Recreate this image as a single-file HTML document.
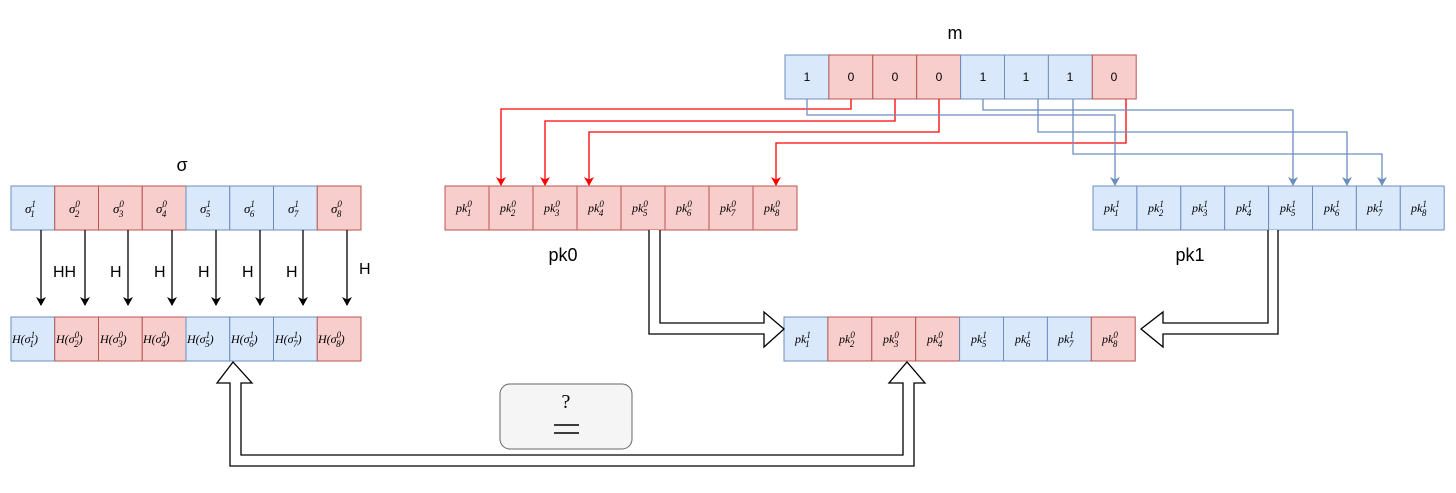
<!DOCTYPE html>
<html><head><meta charset="utf-8"><style>
html,body{margin:0;padding:0;background:#fff;}
svg{display:block}
.l{font-family:"Liberation Sans",sans-serif;font-size:18px;fill:#000}
.m{font-family:"Liberation Serif",serif;font-style:italic;font-size:13px;fill:#000}
.s{font-size:9px}
.n{font-family:"Liberation Sans",sans-serif;font-size:12px;fill:#000}
.b{fill:#dae8fc;stroke:#6c8ebf;stroke-width:1}
.r{fill:#f8cecc;stroke:#b85450;stroke-width:1}
</style></head><body>
<svg width="1456" height="493" viewBox="0 0 1456 493" xmlns="http://www.w3.org/2000/svg">
<defs>
<marker id="ak" markerWidth="10" markerHeight="10" refX="8" refY="5" orient="auto" markerUnits="userSpaceOnUse"><path d="M0,0 L9,5 L0,10 L2.5,5 Z" fill="#000"/></marker>
<marker id="ar" markerWidth="10" markerHeight="10" refX="8" refY="5" orient="auto" markerUnits="userSpaceOnUse"><path d="M0,0 L9,5 L0,10 L2.5,5 Z" fill="#ff0000"/></marker>
<marker id="ab" markerWidth="10" markerHeight="10" refX="8" refY="5" orient="auto" markerUnits="userSpaceOnUse"><path d="M0,0 L9,5 L0,10 L2.5,5 Z" fill="#6c8ebf"/></marker>
</defs>

<!-- labels -->
<text class="l" x="182" y="171" text-anchor="middle">σ</text>
<text class="l" x="955" y="39" text-anchor="middle">m</text>
<text class="l" x="563" y="261" text-anchor="middle">pk0</text>
<text class="l" x="1190" y="261" text-anchor="middle">pk1</text>

<!-- sigma row -->
<rect class="b" x="11" y="186" width="43.75" height="44"/>
<rect class="r" x="54.75" y="186" width="43.75" height="44"/>
<rect class="r" x="98.5" y="186" width="43.75" height="44"/>
<rect class="r" x="142.25" y="186" width="43.75" height="44"/>
<rect class="b" x="186" y="186" width="43.75" height="44"/>
<rect class="b" x="229.75" y="186" width="43.75" height="44"/>
<rect class="b" x="273.5" y="186" width="43.75" height="44"/>
<rect class="r" x="317.25" y="186" width="43.75" height="44"/>
<g class="m">
<text x="25" y="213">σ<tspan class="s" dy="-6">1</tspan><tspan class="s" dx="-5" dy="10">1</tspan></text>
<text x="69" y="213">σ<tspan class="s" dy="-6">0</tspan><tspan class="s" dx="-5" dy="10">2</tspan></text>
<text x="113" y="213">σ<tspan class="s" dy="-6">0</tspan><tspan class="s" dx="-5" dy="10">3</tspan></text>
<text x="156" y="213">σ<tspan class="s" dy="-6">0</tspan><tspan class="s" dx="-5" dy="10">4</tspan></text>
<text x="200" y="213">σ<tspan class="s" dy="-6">1</tspan><tspan class="s" dx="-5" dy="10">5</tspan></text>
<text x="244" y="213">σ<tspan class="s" dy="-6">1</tspan><tspan class="s" dx="-5" dy="10">6</tspan></text>
<text x="288" y="213">σ<tspan class="s" dy="-6">1</tspan><tspan class="s" dx="-5" dy="10">7</tspan></text>
<text x="331" y="213">σ<tspan class="s" dy="-6">0</tspan><tspan class="s" dx="-5" dy="10">8</tspan></text>
</g>

<!-- H arrows -->
<g stroke="#000" stroke-width="1.3" marker-end="url(#ak)">
<line x1="41" y1="230" x2="41" y2="305"/>
<line x1="85" y1="230" x2="85" y2="305"/>
<line x1="128" y1="230" x2="128" y2="305"/>
<line x1="172" y1="230" x2="172" y2="305"/>
<line x1="216" y1="230" x2="216" y2="305"/>
<line x1="260" y1="230" x2="260" y2="305"/>
<line x1="303" y1="230" x2="303" y2="305"/>
<line x1="347" y1="230" x2="347" y2="305"/>
</g>
<g class="l" font-size="16">
<text x="53" y="277" style="font-size:16px">HH</text>
<text x="110" y="277" style="font-size:16px">H</text>
<text x="154" y="277" style="font-size:16px">H</text>
<text x="198" y="277" style="font-size:16px">H</text>
<text x="242" y="277" style="font-size:16px">H</text>
<text x="286" y="277" style="font-size:16px">H</text>
<text x="359" y="274" style="font-size:16px">H</text>
</g>

<!-- H row -->
<rect class="b" x="11" y="317" width="43.75" height="44"/>
<rect class="r" x="54.75" y="317" width="43.75" height="44"/>
<rect class="r" x="98.5" y="317" width="43.75" height="44"/>
<rect class="r" x="142.25" y="317" width="43.75" height="44"/>
<rect class="b" x="186" y="317" width="43.75" height="44"/>
<rect class="b" x="229.75" y="317" width="43.75" height="44"/>
<rect class="b" x="273.5" y="317" width="43.75" height="44"/>
<rect class="r" x="317.25" y="317" width="43.75" height="44"/>
<g class="m" style="font-size:12px">
<text x="12" y="343">H(σ<tspan class="s" dy="-5">1</tspan><tspan class="s" dx="-5" dy="9">1</tspan><tspan dy="-4">)</tspan></text>
<text x="56" y="343">H(σ<tspan class="s" dy="-5">0</tspan><tspan class="s" dx="-5" dy="9">2</tspan><tspan dy="-4">)</tspan></text>
<text x="100" y="343">H(σ<tspan class="s" dy="-5">0</tspan><tspan class="s" dx="-5" dy="9">3</tspan><tspan dy="-4">)</tspan></text>
<text x="143" y="343">H(σ<tspan class="s" dy="-5">0</tspan><tspan class="s" dx="-5" dy="9">4</tspan><tspan dy="-4">)</tspan></text>
<text x="187" y="343">H(σ<tspan class="s" dy="-5">1</tspan><tspan class="s" dx="-5" dy="9">5</tspan><tspan dy="-4">)</tspan></text>
<text x="231" y="343">H(σ<tspan class="s" dy="-5">1</tspan><tspan class="s" dx="-5" dy="9">6</tspan><tspan dy="-4">)</tspan></text>
<text x="275" y="343">H(σ<tspan class="s" dy="-5">1</tspan><tspan class="s" dx="-5" dy="9">7</tspan><tspan dy="-4">)</tspan></text>
<text x="318" y="343">H(σ<tspan class="s" dy="-5">0</tspan><tspan class="s" dx="-5" dy="9">8</tspan><tspan dy="-4">)</tspan></text>
</g>

<!-- m row -->
<rect class="b" x="785" y="55" width="43.9" height="44"/>
<rect class="r" x="828.9" y="55" width="43.9" height="44"/>
<rect class="r" x="872.8" y="55" width="43.9" height="44"/>
<rect class="r" x="916.7" y="55" width="43.9" height="44"/>
<rect class="b" x="960.6" y="55" width="43.9" height="44"/>
<rect class="b" x="1004.5" y="55" width="43.9" height="44"/>
<rect class="b" x="1048.4" y="55" width="43.9" height="44"/>
<rect class="r" x="1092.3" y="55" width="43.9" height="44"/>
<g class="n" text-anchor="middle">
<text x="807" y="81">1</text><text x="851" y="81">0</text><text x="895" y="81">0</text><text x="939" y="81">0</text>
<text x="983" y="81">1</text><text x="1026" y="81">1</text><text x="1070" y="81">1</text><text x="1114" y="81">0</text>
</g>

<!-- red connectors -->
<g fill="none" stroke="#ff0000" stroke-width="1.3" marker-end="url(#ar)">
<polyline points="851,99 851,109 501,109 501,185"/>
<polyline points="895,99 895,121 545,121 545,185"/>
<polyline points="939,99 939,132 589,132 589,185"/>
<polyline points="1126,99 1126,143 776,143 776,185"/>
</g>
<!-- blue connectors -->
<g fill="none" stroke="#6c8ebf" stroke-width="1.3" marker-end="url(#ab)">
<polyline points="807,99 807,115 1115,115 1115,185"/>
<polyline points="983,99 983,110 1293,110 1293,185"/>
<polyline points="1038,99 1038,132 1347,132 1347,185"/>
<polyline points="1073,99 1073,154 1382,154 1382,185"/>
</g>

<!-- pk0 -->
<g class="r">
<rect x="445" y="186" width="44" height="44"/><rect x="489" y="186" width="44" height="44"/>
<rect x="533" y="186" width="44" height="44"/><rect x="577" y="186" width="44" height="44"/>
<rect x="621" y="186" width="44" height="44"/><rect x="665" y="186" width="44" height="44"/>
<rect x="709" y="186" width="44" height="44"/><rect x="753" y="186" width="44" height="44"/>
</g>
<g class="m" style="font-size:12px">
<text x="456" y="212">pk<tspan class="s" dy="-5">0</tspan><tspan class="s" dx="-5" dy="9">1</tspan></text>
<text x="500" y="212">pk<tspan class="s" dy="-5">0</tspan><tspan class="s" dx="-5" dy="9">2</tspan></text>
<text x="544" y="212">pk<tspan class="s" dy="-5">0</tspan><tspan class="s" dx="-5" dy="9">3</tspan></text>
<text x="588" y="212">pk<tspan class="s" dy="-5">0</tspan><tspan class="s" dx="-5" dy="9">4</tspan></text>
<text x="632" y="212">pk<tspan class="s" dy="-5">0</tspan><tspan class="s" dx="-5" dy="9">5</tspan></text>
<text x="676" y="212">pk<tspan class="s" dy="-5">0</tspan><tspan class="s" dx="-5" dy="9">6</tspan></text>
<text x="720" y="212">pk<tspan class="s" dy="-5">0</tspan><tspan class="s" dx="-5" dy="9">7</tspan></text>
<text x="764" y="212">pk<tspan class="s" dy="-5">0</tspan><tspan class="s" dx="-5" dy="9">8</tspan></text>
</g>

<!-- pk1 -->
<g class="b">
<rect x="1093" y="186" width="43.9" height="44"/><rect x="1136.9" y="186" width="43.9" height="44"/>
<rect x="1180.8" y="186" width="43.9" height="44"/><rect x="1224.7" y="186" width="43.9" height="44"/>
<rect x="1268.6" y="186" width="43.9" height="44"/><rect x="1312.5" y="186" width="43.9" height="44"/>
<rect x="1356.4" y="186" width="43.9" height="44"/><rect x="1400.3" y="186" width="43.9" height="44"/>
</g>
<g class="m" style="font-size:12px">
<text x="1104" y="212">pk<tspan class="s" dy="-5">1</tspan><tspan class="s" dx="-5" dy="9">1</tspan></text>
<text x="1148" y="212">pk<tspan class="s" dy="-5">1</tspan><tspan class="s" dx="-5" dy="9">2</tspan></text>
<text x="1192" y="212">pk<tspan class="s" dy="-5">1</tspan><tspan class="s" dx="-5" dy="9">3</tspan></text>
<text x="1236" y="212">pk<tspan class="s" dy="-5">1</tspan><tspan class="s" dx="-5" dy="9">4</tspan></text>
<text x="1280" y="212">pk<tspan class="s" dy="-5">1</tspan><tspan class="s" dx="-5" dy="9">5</tspan></text>
<text x="1324" y="212">pk<tspan class="s" dy="-5">1</tspan><tspan class="s" dx="-5" dy="9">6</tspan></text>
<text x="1367" y="212">pk<tspan class="s" dy="-5">1</tspan><tspan class="s" dx="-5" dy="9">7</tspan></text>
<text x="1411" y="212">pk<tspan class="s" dy="-5">1</tspan><tspan class="s" dx="-5" dy="9">8</tspan></text>
</g>

<!-- result row -->
<rect class="b" x="784" y="317" width="43.9" height="44"/>
<rect class="r" x="827.9" y="317" width="43.9" height="44"/>
<rect class="r" x="871.8" y="317" width="43.9" height="44"/>
<rect class="r" x="915.7" y="317" width="43.9" height="44"/>
<rect class="b" x="959.6" y="317" width="43.9" height="44"/>
<rect class="b" x="1003.5" y="317" width="43.9" height="44"/>
<rect class="b" x="1047.4" y="317" width="43.9" height="44"/>
<rect class="r" x="1091.3" y="317" width="43.9" height="44"/>
<g class="m" style="font-size:12px">
<text x="795" y="343">pk<tspan class="s" dy="-5">1</tspan><tspan class="s" dx="-5" dy="9">1</tspan></text>
<text x="839" y="343">pk<tspan class="s" dy="-5">0</tspan><tspan class="s" dx="-5" dy="9">2</tspan></text>
<text x="883" y="343">pk<tspan class="s" dy="-5">0</tspan><tspan class="s" dx="-5" dy="9">3</tspan></text>
<text x="927" y="343">pk<tspan class="s" dy="-5">0</tspan><tspan class="s" dx="-5" dy="9">4</tspan></text>
<text x="971" y="343">pk<tspan class="s" dy="-5">1</tspan><tspan class="s" dx="-5" dy="9">5</tspan></text>
<text x="1015" y="343">pk<tspan class="s" dy="-5">1</tspan><tspan class="s" dx="-5" dy="9">6</tspan></text>
<text x="1058" y="343">pk<tspan class="s" dy="-5">1</tspan><tspan class="s" dx="-5" dy="9">7</tspan></text>
<text x="1102" y="343">pk<tspan class="s" dy="-5">0</tspan><tspan class="s" dx="-5" dy="9">8</tspan></text>
</g>

<!-- hollow arrows -->
<g fill="#fff" stroke="#000" stroke-width="1.3" stroke-linejoin="miter">
<path d="M649,230 L649,334 L764,334 L764,347 L784,329 L764,312 L764,323 L660,323 L660,230"/>
<path d="M1278,230 L1278,334 L1163,334 L1163,347 L1141,329 L1163,312 L1163,323 L1268,323 L1268,230"/>
<path d="M230,383 L217,383 L233,362 L252,383 L241,383 L241,455 L903,455 L903,383 L889,383 L907,362 L925,383 L914,383 L914,466 L230,466 Z"/>
</g>

<!-- ?= box -->
<rect x="500" y="384" width="132" height="65" rx="10" ry="10" fill="#f5f5f5" stroke="#666" stroke-width="1"/>
<text x="566" y="408" text-anchor="middle" style="font-family:'Liberation Serif',serif;font-size:20px">?</text>
<line x1="554" y1="425" x2="579" y2="425" stroke="#000" stroke-width="1.5"/>
<line x1="554" y1="433" x2="579" y2="433" stroke="#000" stroke-width="1.5"/>
</svg>
</body></html>
